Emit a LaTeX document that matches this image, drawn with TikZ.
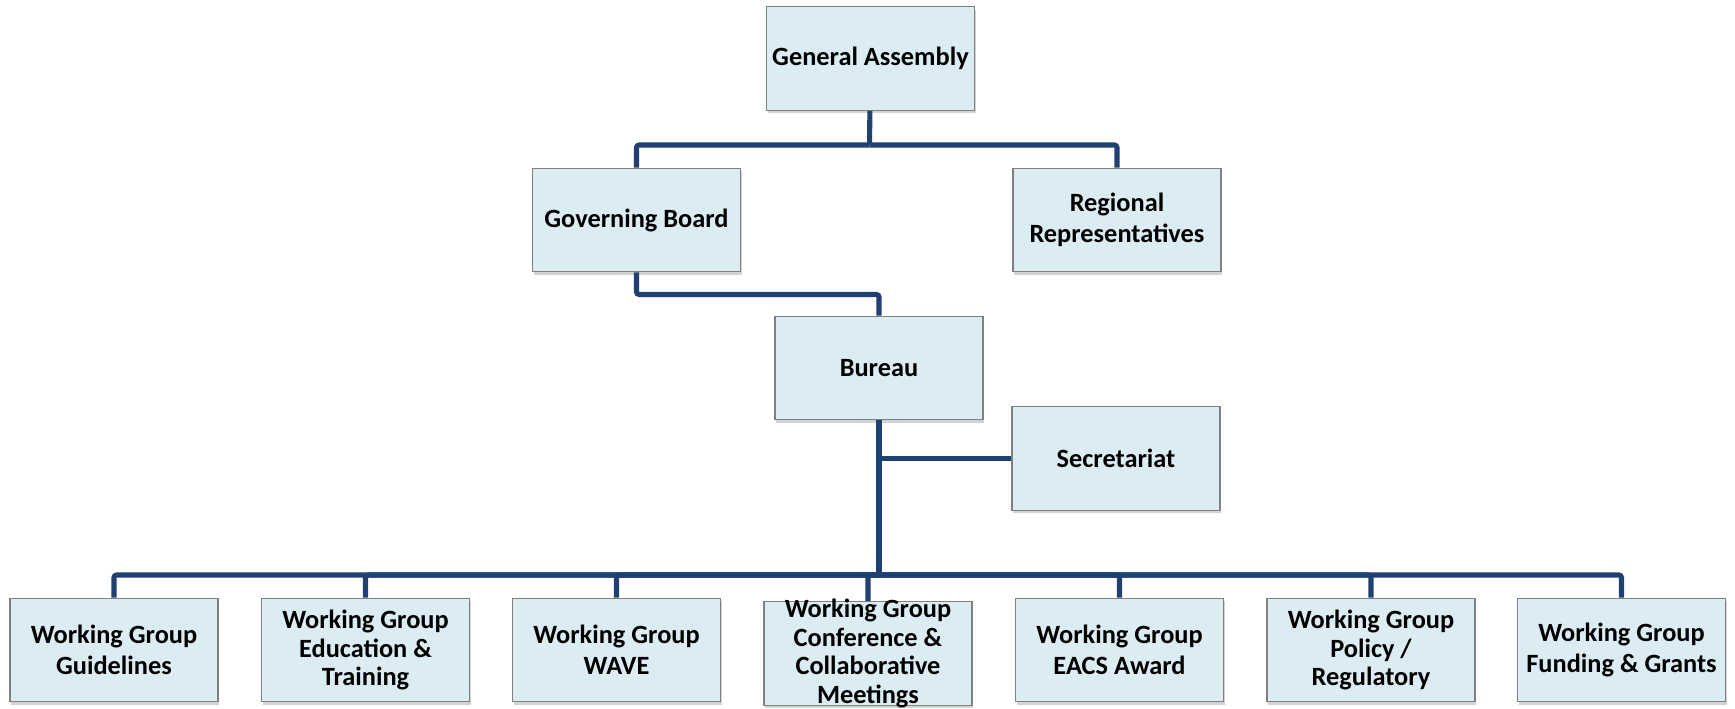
\documentclass[tikz,border=0pt]{standalone}
\usepackage{fontspec}
\setmainfont{Carlito}
\usetikzlibrary{shadows}

\definecolor{boxfill}{RGB}{219,237,243}
\definecolor{boxline}{RGB}{128,128,128}
\definecolor{linkblue}{RGB}{31,64,112}

\tikzset{
  orgbox/.style={shape=rectangle,draw=boxline,line width=0.8pt,fill=boxfill,
    minimum width=4.16cm,minimum height=2.07cm,inner sep=2pt,align=center,
    font=\bfseries\fontsize{15}{17.6}\selectfont,
    drop shadow={shadow xshift=0.6pt,shadow yshift=-1.6pt,opacity=0.35}},
  tightlines/.style={font=\bfseries\fontsize{15}{16.4}\selectfont},
  link/.style={draw=linkblue,line width=2.9pt,rounded corners=1.5pt}
}

\begin{document}
\begin{tikzpicture}
	    \useasboundingbox (0,0) rectangle (34.7,-14.16);

	    \node[orgbox] (ga) at (17.41,-1.17) {General Assembly};
	    \node[orgbox] (gb) at (12.73,-4.4) {Governing Board};
	    \node[orgbox] (rr) at (22.34,-4.4) {Regional\\Representatives};
	    \node[orgbox] (bureau) at (17.58,-7.36) {Bureau};
	    \node[orgbox] (sec) at (22.32,-9.17) {Secretariat};

	    \node[orgbox] (wg1) at (2.28,-13.0) {Working Group\\Guidelines};
	    \node[orgbox,tightlines] (wg2) at (7.31,-13.0) {Working Group\\Education \&\\Training};
	    \node[orgbox] (wg3) at (12.33,-13.0) {Working Group\\WAVE};
	    \node[orgbox] (wg4) at (17.36,-13.07) {};
	    \node[tightlines,align=center] (wg4text) at (wg4.center) {Working Group\\Conference \&\\Collaborative\\Meetings};
	    \node[orgbox] (wg5) at (22.39,-13.0) {Working Group\\EACS Award};
	    \node[orgbox,tightlines] (wg6) at (27.42,-13.0) {Working Group\\Policy /\\Regulatory};
	    \node[orgbox] (wg7) at (32.43,-13.0) {Working Group\\Funding \& Grants};

	    \coordinate (gajoin) at (17.39,-2.9);
	    \coordinate (wgjoin) at (17.58,-11.5);

	    \path [link] (ga) -- (gajoin);
	    \path [link] (gajoin) -| (gb);
	    \path [link] (gajoin) -| (rr);
	    \path [link] (gb.south) -- ++(0,-0.44) -| (bureau.north);
	    \path [link] (bureau) -- (wgjoin);
	    \path [link] (sec.west) -- (sec.west -| bureau.south);
	    \foreach \i in {1,...,7}
	        \path [link] (wgjoin) -| (wg\i);
	\end{tikzpicture}
\end{document}
